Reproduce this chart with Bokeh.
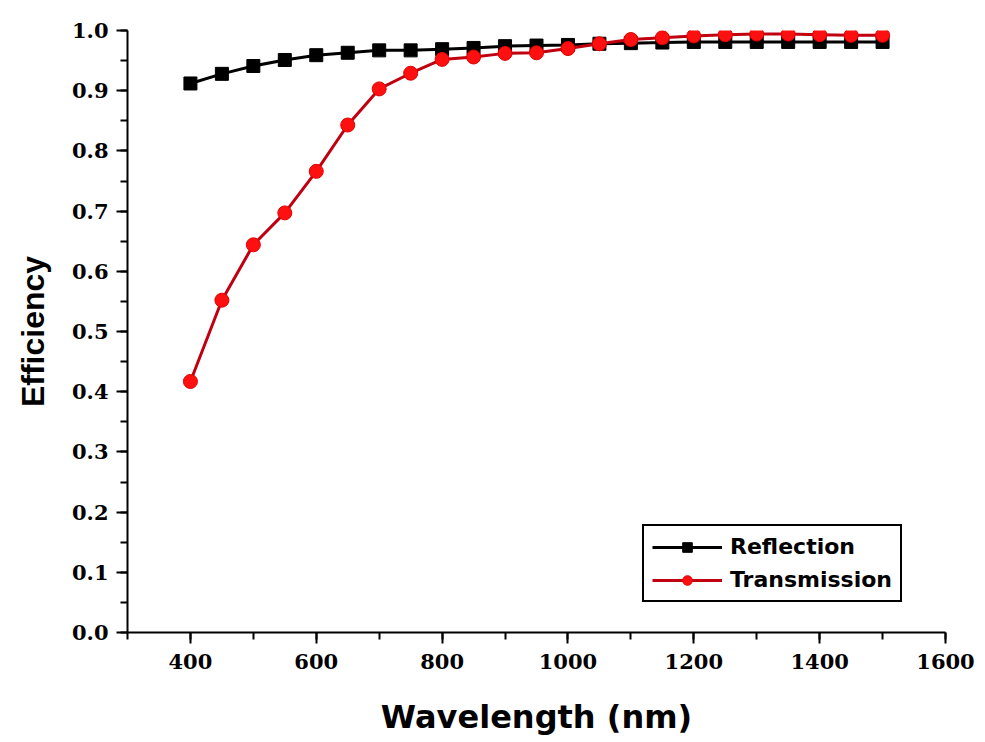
from bokeh.plotting import figure
from bokeh.models import SingleIntervalTicker, PrintfTickFormatter, Range1d, Legend, LegendItem
from bokeh.embed import file_html
from bokeh.resources import INLINE

wavelength = [400, 450, 500, 550, 600, 650, 700, 750, 800, 850, 900, 950, 1000,
              1050, 1100, 1150, 1200, 1250, 1300, 1350, 1400, 1450, 1500]
reflection = [0.912, 0.928, 0.941, 0.951, 0.959, 0.963, 0.967, 0.967, 0.969, 0.971,
              0.974, 0.975, 0.976, 0.978, 0.979, 0.980, 0.981, 0.981, 0.981, 0.981,
              0.981, 0.981, 0.981]
transmission = [0.417, 0.552, 0.644, 0.697, 0.766, 0.843, 0.903, 0.929, 0.952, 0.956,
                0.962, 0.963, 0.970, 0.978, 0.985, 0.988, 0.991, 0.993, 0.994, 0.994,
                0.993, 0.992, 0.992]

p = figure(width=985, height=742, output_backend="svg", toolbar_location=None,
           x_range=Range1d(300, 1600), y_range=Range1d(0, 1.0),
           min_border_left=127, min_border_right=40, min_border_top=30, min_border_bottom=110)
p.outline_line_color = None
p.grid.visible = False
p.background_fill_color = "white"

r_line = p.line(wavelength, reflection, line_color="black", line_width=3)
r_mark = p.scatter(wavelength, reflection, marker="square", size=13, fill_color="black", line_color="black")
t_line = p.line(wavelength, transmission, line_color="#c00010", line_width=3)
t_mark = p.scatter(wavelength, transmission, marker="circle", size=14, fill_color="#ff1010", line_color="#e00000")

for ax in (p.xaxis[0], p.yaxis[0]):
    ax.axis_line_width = 2
    ax.axis_line_color = "black"
    ax.major_tick_line_width = 2
    ax.minor_tick_line_width = 2
    ax.major_tick_out = 11
    ax.major_tick_in = 0
    ax.minor_tick_out = 7
    ax.minor_tick_in = 0
    ax.major_label_text_font = "DejaVu Serif"
    ax.major_label_text_font_style = "bold"
    ax.major_label_text_font_size = "21px"
    ax.major_label_text_color = "black"
    ax.axis_label_text_font_style = "bold"
    ax.axis_label_text_color = "black"

p.xaxis.ticker = SingleIntervalTicker(interval=200, num_minor_ticks=2)
p.yaxis.ticker = SingleIntervalTicker(interval=0.1, num_minor_ticks=2)
p.yaxis.formatter = PrintfTickFormatter(format="%.1f")
p.xaxis.major_label_standoff = 10
p.yaxis.major_label_standoff = 8
p.xaxis.axis_label = "Wavelength (nm)"
p.yaxis.axis_label = "Efficiency"
p.xaxis.axis_label_text_font = "DejaVu Sans"
p.yaxis.axis_label_text_font = "Liberation Sans"
p.xaxis.axis_label_text_font_size = "32px"
p.yaxis.axis_label_text_font_size = "32px"
p.xaxis.axis_label_standoff = 26
p.yaxis.axis_label_standoff = 18

legend = Legend(items=[LegendItem(label="Reflection", renderers=[r_line, r_mark]),
                       LegendItem(label="Transmission", renderers=[t_line, t_mark])],
                location=(515, 30))
legend.border_line_color = "black"
legend.border_line_width = 2
legend.border_line_alpha = 1
legend.label_text_font = "DejaVu Sans"
legend.label_text_font_style = "bold"
legend.label_text_font_size = "22px"
legend.label_text_color = "black"
legend.glyph_width = 70
legend.glyph_height = 24
legend.spacing = 8
legend.padding = 8
legend.margin = 0
legend.label_standoff = 8
legend.background_fill_alpha = 1
p.add_layout(legend, "center")

open("out.html", "w").write(file_html(p, INLINE))
